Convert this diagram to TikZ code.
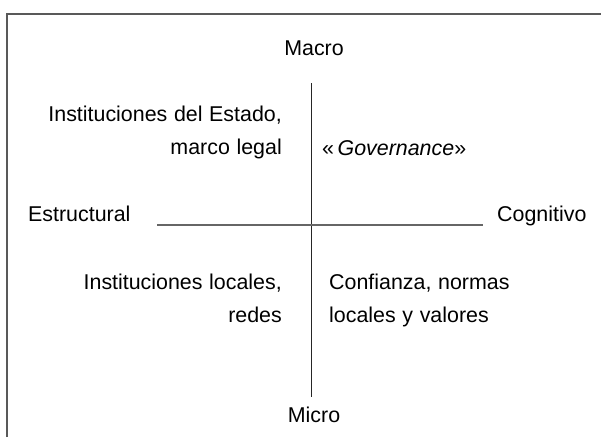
\documentclass[tikz,border=0pt]{standalone}
\usepackage{fontspec}
\setmainfont{Liberation Sans}
\newcommand{\mylblfont}{\fontsize{21.4}{25}\selectfont\spaceskip=0.31em\relax}
\begin{document}
\begin{tikzpicture}[x=1pt,y=-1pt,
  lbl/.style={inner sep=0pt, font=\mylblfont},
  frameline/.style={draw=black!65, line width=1.3pt},
  vaxis/.style={draw=black!85, line width=1pt},
  haxis/.style={draw=black!60, line width=1.6pt}]
\useasboundingbox (0,0) rectangle (601,437);
\draw[frameline] (7,437) -- (7,14) -- (601,14);
% axes
\coordinate (vt) at (311,83);
\coordinate (vb) at (311,397);
\coordinate (hl) at (157,225);
\coordinate (hr) at (483,225);
\draw[vaxis] (vt) -- (vb);
\draw[haxis] (hl) -- (hr);
% labels
\node[lbl, anchor=base] (macro) at (314,55) {Macro};
\node[lbl, anchor=base] (micro) at (314,422) {Micro};
\node[lbl, anchor=base west] (estr) at (28,221) {Estructural};
\node[lbl, anchor=base west] (cogn) at (497,221) {Cognitivo};
\node[lbl, anchor=base east] (tl1) at (282,121) {Instituciones del Estado,};
\node[lbl, anchor=base east] (tl2) at (282,154) {marco legal};
\node[lbl, anchor=base west] (tr) at (322,155) {«\,\textit{Governance}»};
\node[lbl, anchor=base east] (bl1) at (282,289) {Instituciones locales,};
\node[lbl, anchor=base east] (bl2) at (282,322) {redes};
\node[lbl, anchor=base west] (br1) at (329,289) {Confianza, normas};
\node[lbl, anchor=base west] (br2) at (329,322) {locales y valores};
\end{tikzpicture}
\end{document}
